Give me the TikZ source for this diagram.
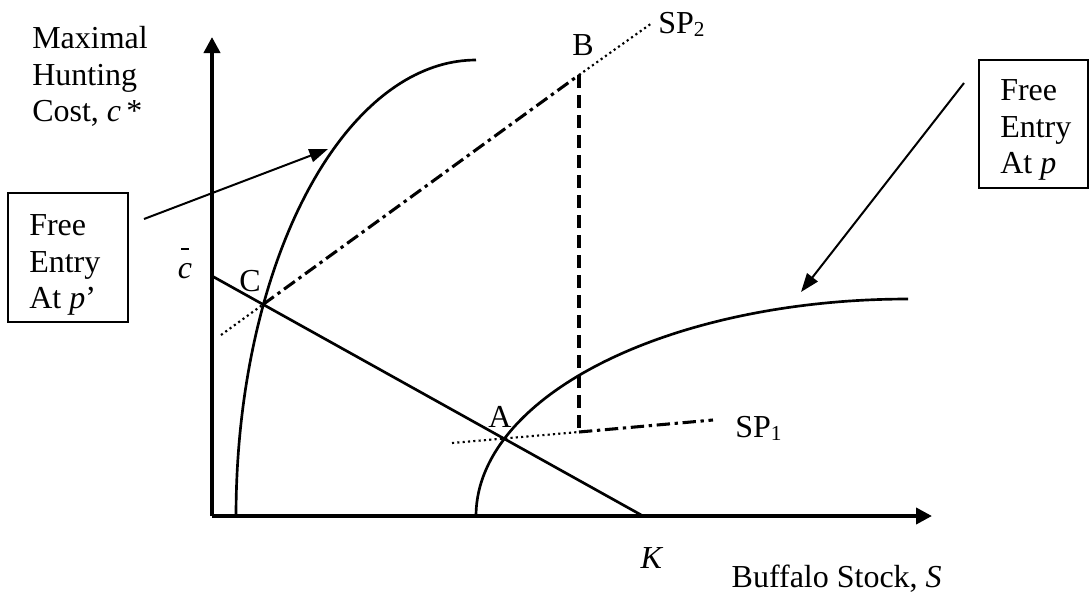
\documentclass[tikz,border=0pt]{standalone}
\usepackage{fontspec}
\setmainfont{Liberation Serif}
\usetikzlibrary{arrows.meta}
\begin{document}
\begin{tikzpicture}[x=0.75pt,y=-0.75pt,
  txt/.style={inner sep=0pt, font=\fontsize{24}{28}\selectfont},
  axis/.style={line width=2.9pt, -{Triangle[length=12pt,width=12pt]}},
  curve/.style={line width=2pt},
  pointer/.style={line width=1.5pt, -{Triangle[length=14pt,width=10pt]}},
  infobox/.style={draw, line width=1.4pt, inner sep=0pt},
  dotline/.style={line width=1.6pt, dash pattern=on 1.6pt off 2.4pt},
  dashdot/.style={line width=2.3pt, dash pattern=on 10pt off 3.5pt on 2.5pt off 3.5pt},
  dashline/.style={line width=2.4pt, dash pattern=on 10pt off 5pt}]
\useasboundingbox (0,0) rectangle (1089,600);

% axes
\coordinate (O) at (212,516);
\coordinate (ytip) at (212,37);
\coordinate (xtip) at (932,516);
\draw[axis] (O) -- (ytip);
\draw[axis] (O) -- (xtip);

% curves
\draw[curve] plot[domain=0:90, samples=80] ({476-240*cos(\x)},{516-456*sin(\x)});
\draw[curve] plot[domain=0:90, samples=80] ({908-432*cos(\x)},{516-217*sin(\x)});

% c-bar to K line
\coordinate (cbarpt) at (212,276);
\coordinate (Kpt) at (643,516);
\draw[curve] (cbarpt) -- (Kpt);

% SP2
\coordinate (sp2s) at (221,335);
\coordinate (Cpt) at (263,304.5);
\coordinate (Bpt) at (579,75);
\coordinate (sp2e) at (652,23);
\draw[dotline] (sp2s) -- (Cpt);
\draw[dashdot] (Cpt) -- (Bpt);
\draw[dotline] (Bpt) -- (sp2e);

% SP1
\coordinate (sp1s) at (452,443);
\coordinate (Dpt) at (579,432);
\coordinate (sp1e) at (713,420);
\draw[dotline] (sp1s) -- (Dpt);
\draw[dashdot] (Dpt) -- (sp1e);
\draw[dashline] (Bpt) -- (Dpt);

% labels
\node[txt, anchor=base west] (l1) at (32,48) {Maximal};
\node[txt, anchor=base west] (l2) at (32,85) {Hunting};
\node[txt, anchor=base west] (l3) at (32,121.5) {Cost, \textit{c}\,*};
\node[txt, anchor=base east] (xl) at (942,587) {Buffalo Stock, \textit{S}};
\node[txt, anchor=base] (Kl) at (652,568) {\textit{K}};
\node[txt, anchor=base] (Al) at (500,427) {A};
\node[txt, anchor=base] (Bl) at (583,55) {B};
\node[txt, anchor=base] (Cl) at (250,291) {C};
\node[txt, anchor=base west] (sp2l) at (658,33) {SP{\fontsize{16}{16}\selectfont\raisebox{-0.18em}{2}}};
\node[txt, anchor=base west] (sp1l) at (735,437) {SP{\fontsize{16}{16}\selectfont\raisebox{-0.18em}{1}}};
\node[txt, anchor=base] (cbl) at (185,278) {\textit{c}};
\draw[line width=0.9pt] (181,249) -- (189,249);

% left box
\node[infobox, minimum width=90pt, minimum height=96.75pt] (boxL) at (68,257.5) {};
\node[txt, anchor=base west] (bL1) at (29,235) {Free};
\node[txt, anchor=base west] (bL2) at (29,272) {Entry};
\node[txt, anchor=base west] (bL3) at (29,308) {At \textit{p}’};

% right box
\node[infobox, minimum width=81.75pt, minimum height=96pt] (boxR) at (1033.5,124) {};
\node[txt, anchor=base west] (bR1) at (1000,100) {Free};
\node[txt, anchor=base west] (bR2) at (1000,137) {Entry};
\node[txt, anchor=base west] (bR3) at (1000,173) {At \textit{p}};

% pointers
\coordinate (pLs) at (144,219);
\coordinate (pLt) at (328,149);
\coordinate (pRs) at (964,83);
\coordinate (pRt) at (801,292);
\draw[pointer] (pLs) -- (pLt);
\draw[pointer] (pRs) -- (pRt);
\end{tikzpicture}
\end{document}
